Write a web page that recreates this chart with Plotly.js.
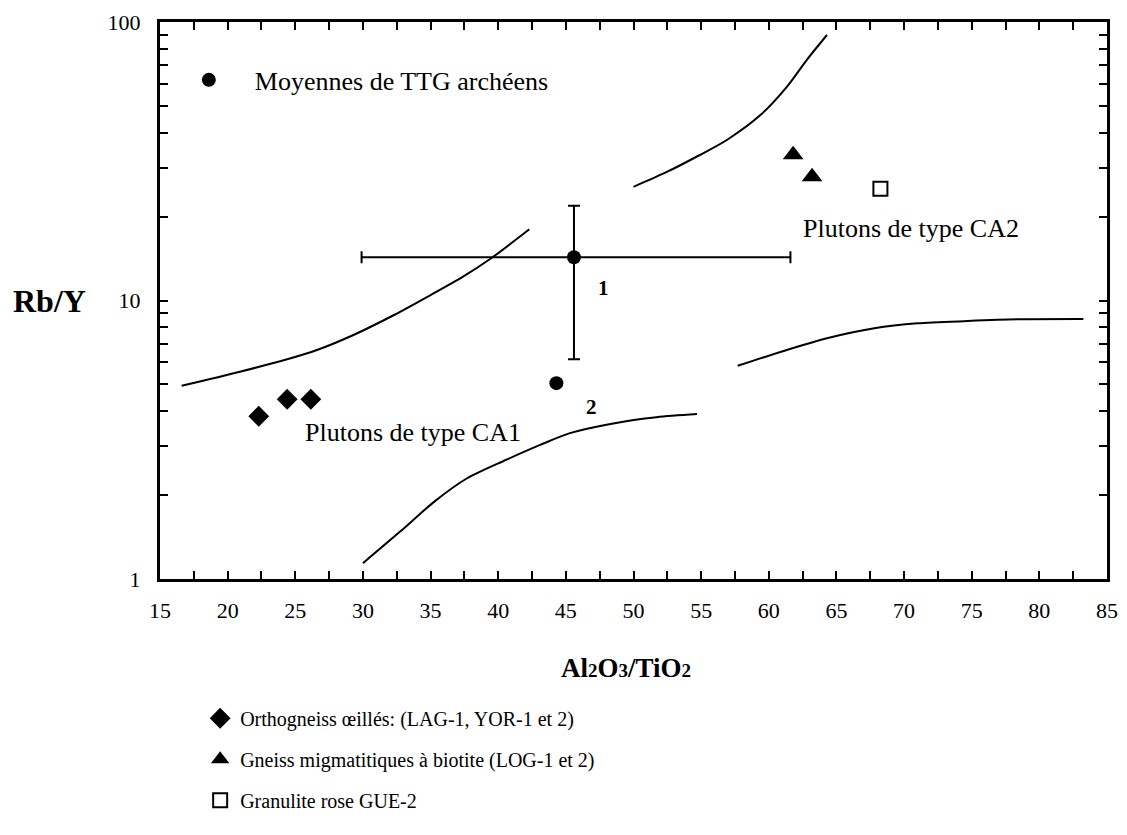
<!DOCTYPE html>
<html>
<head>
<meta charset="utf-8">
<script src="https://cdn.plot.ly/plotly-3.0.1.min.js"></script>
<style>html,body{margin:0;padding:0;background:#fff;}#chart{width:1127px;height:835px;}</style>
</head>
<body>
<div id="chart"></div>
<script>
// ---- data ----
// TTG archean means (point 1 with error bars, point 2 without)
var ttgX = [45.6, 44.3];
var ttgY = [14.3, 5.05];
var ttgLabels = ['1', '2'];
var ttg1XLow = 29.9, ttg1XHigh = 61.6;
var ttg1YLow = 6.15, ttg1YHigh = 21.9;

// Orthogneiss oeillés
var orthoX = [22.3, 24.4, 26.15];
var orthoY = [3.84, 4.42, 4.42];
// Gneiss migmatitiques
var gneissX = [61.8, 63.2];
var gneissY = [33.4, 27.8];
// Granulite rose
var granX = [68.25];
var granY = [25.2];

// Boundary curves
var curveAX = [16.6, 20.9, 24.4, 26.6, 29.3, 32.3, 35.0, 37.4, 39.4, 42.3];
var curveAY = [4.94, 5.55, 6.15, 6.64, 7.52, 8.87, 10.46, 12.18, 14.09, 18.02];
var curveBX = [50.0, 52.5, 54.9, 56.9, 59.4, 61.35, 62.8, 64.3];
var curveBY = [25.6, 29.0, 33.3, 37.7, 46.4, 58.6, 73.0, 89.8];
var curveCX = [30.0, 32.75, 35.3, 37.7, 40.6, 43.1, 45.3, 48.5, 51.7, 54.7];
var curveCY = [1.14, 1.48, 1.90, 2.30, 2.68, 3.03, 3.34, 3.62, 3.81, 3.91];
var curveDX = [57.7, 61.1, 64.3, 67.8, 71.0, 74.7, 78.4, 83.25];
var curveDY = [5.83, 6.59, 7.32, 7.95, 8.28, 8.44, 8.56, 8.58];

// axis ticks
var xTickVals = [15,17.5,20,22.5,25,27.5,30,32.5,35,37.5,40,42.5,45,47.5,50,52.5,55,57.5,60,62.5,65,67.5,70,72.5,75,77.5,80,82.5,85];
var xTickText = xTickVals.map(function(v){ return (v % 5 === 0) ? String(v) : ''; });
var yTickVals = [1,2,3,4,5,6,7,8,9,10,20,30,40,50,60,70,80,90,100];
var yTickText = yTickVals.map(function(v){ return (v===1||v===10||v===100) ? String(v) : ''; });

// region labels
var regionLabels = [
  {text: 'Plutons de type CA1', x: 25.6, y: 3.35},
  {text: 'Plutons de type CA2', x: 62.4, y: 18.2}
];

var FONT = 'Liberation Serif, Times New Roman, serif';
var lineStyle = {color: '#000', width: 2, shape: 'spline', smoothing: 0.8};

var traces = [];
[[curveAX, curveAY], [curveBX, curveBY], [curveCX, curveCY], [curveDX, curveDY]].forEach(function(c){
  traces.push({x: c[0], y: c[1], mode: 'lines', line: lineStyle, showlegend: false, hoverinfo: 'skip'});
});

// TTG point 1 with error bars
traces.push({
  x: [ttgX[0]], y: [ttgY[0]], mode: 'markers', name: 'Moyennes de TTG archéens',
  legend: 'legend2',
  marker: {symbol: 'circle', size: 14, color: '#000'},
  error_x: {type: 'data', symmetric: false, array: [ttg1XHigh - ttgX[0]], arrayminus: [ttgX[0] - ttg1XLow], color: '#000', thickness: 2, width: 6},
  error_y: {type: 'data', symmetric: false, array: [ttg1YHigh - ttgY[0]], arrayminus: [ttgY[0] - ttg1YLow], color: '#000', thickness: 2, width: 6}
});
// TTG point 2
traces.push({
  x: [ttgX[1]], y: [ttgY[1]], mode: 'markers', showlegend: false,
  marker: {symbol: 'circle', size: 14, color: '#000'}
});
traces.push({
  x: orthoX, y: orthoY, mode: 'markers', name: 'Orthogneiss œillés: (LAG-1, YOR-1 et 2)',
  legendgroup: 'a', marker: {symbol: 'diamond', size: 16, color: '#000'}
});
traces.push({
  x: gneissX, y: gneissY, mode: 'markers', name: 'Gneiss migmatitiques à biotite (LOG-1 et 2)',
  legendgroup: 'b', marker: {symbol: 'triangle-up', size: 18, color: '#000'}
});
traces.push({
  x: granX, y: granY, mode: 'markers', name: 'Granulite rose GUE-2',
  legendgroup: 'c', marker: {symbol: 'square-open', size: 14, color: '#000', line: {width: 2, color: '#000'}}
});

var annotations = [];
ttgLabels.forEach(function(t, i){
  annotations.push({x: ttgX[i], y: Math.log10(ttgY[i]), text: '<b>' + t + '</b>', showarrow: false,
    xanchor: 'left', yanchor: 'middle', xshift: i === 0 ? 22 : 28, yshift: i === 0 ? -31 : -24,
    font: {family: FONT, size: 21, color: '#000'}});
});
regionLabels.forEach(function(r){
  annotations.push({x: r.x, y: Math.log10(r.y), text: r.text, showarrow: false, xanchor: 'left', yanchor: 'middle',
    font: {family: FONT, size: 26, color: '#000'}});
});
annotations.push({xref: 'paper', yref: 'paper', x: -0.117, y: 0.5, text: '<b>Rb/Y</b>', showarrow: false,
  xanchor: 'center', yanchor: 'middle', font: {family: FONT, size: 32, color: '#000'}});
annotations.push({xref: 'paper', yref: 'paper', x: 0.492, y: -0.16, text: '<b>Al<span style="font-size:19px">2</span>O<span style="font-size:19px">3</span>/TiO<span style="font-size:19px">2</span></b>', showarrow: false,
  xanchor: 'center', yanchor: 'middle', font: {family: FONT, size: 27, color: '#000'}});

var axisCommon = {
  showline: true, linecolor: '#000', linewidth: 3, mirror: 'ticks',
  ticks: 'inside', ticklen: 8, tickwidth: 2, tickcolor: '#000',
  showgrid: false, zeroline: false,
  tickfont: {family: FONT, size: 22, color: '#000'}
};

var layout = {
  width: 1127, height: 835,
  margin: {l: 160, r: 20, t: 22, b: 256},
  paper_bgcolor: '#fff', plot_bgcolor: '#fff',
  font: {family: FONT, color: '#000'},
  xaxis: Object.assign({}, axisCommon, {range: [15, 85], tickmode: 'array', tickvals: xTickVals, ticktext: xTickText, ticklabelstandoff: 10}),
  yaxis: Object.assign({}, axisCommon, {type: 'log', range: [0, 2], tickmode: 'array', tickvals: yTickVals, ticktext: yTickText, ticklabelstandoff: 12}),
  showlegend: true,
  legend: {x: 0.0424, y: -0.215, xref: 'paper', yref: 'paper', xanchor: 'left', yanchor: 'top',
    font: {family: FONT, size: 20, color: '#000'}, tracegroupgap: 12, bgcolor: 'rgba(0,0,0,0)', borderwidth: 0},
  legend2: {x: 0.003, y: 0.896, xanchor: 'left', yanchor: 'middle', itemwidth: 82,
    font: {family: FONT, size: 26, color: '#000'}, bgcolor: 'rgba(0,0,0,0)', borderwidth: 0},
  annotations: annotations
};

Plotly.newPlot('chart', traces, layout, {displayModeBar: false, staticPlot: true});
</script>
</body>
</html>
